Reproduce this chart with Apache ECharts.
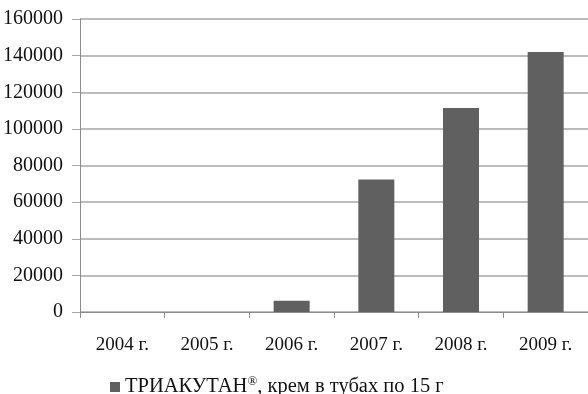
<!DOCTYPE html>
<html>
<head>
<meta charset="utf-8">
<script src="https://cdn.jsdelivr.net/npm/echarts@6/dist/echarts.min.js"></script>
<style>
  html, body { margin: 0; padding: 0; background: #fff; }
  #chart { width: 588px; height: 394px; }
</style>
</head>
<body>
<div id="chart"></div>
<script>
// Годы выпуска и объём продаж
const years = ['2004 г.', '2005 г.', '2006 г.', '2007 г.', '2008 г.', '2009 г.'];
const sales = [0, 0, 6200, 72300, 111400, 142000];
const seriesName = 'ТРИАКУТАН®, крем в тубах по 15 г';
const yTicks = { min: 0, max: 160000, interval: 20000 };

const FONT = '"Liberation Serif", "Times New Roman", serif';
const chart = echarts.init(document.getElementById('chart'), null, { renderer: 'canvas' });

chart.setOption({
  animation: false,
  backgroundColor: '#ffffff',
  grid: { left: 76, top: 19, right: 0, bottom: 82, containLabel: false },
  legend: {
    data: [seriesName],
    top: 375,
    left: 110,
    padding: 0,
    icon: 'rect',
    itemWidth: 10,
    itemHeight: 10,
    itemGap: 6,
    formatter: () => '{a|ТРИАКУТАН}{s|®}{a|, крем в тубах по 15 г}',
    textStyle: {
      fontFamily: FONT,
      color: '#111',
      rich: {
        a: { fontFamily: FONT, fontSize: 20.5, color: '#111', lineHeight: 24 },
        s: { fontFamily: FONT, fontSize: 13, color: '#111', lineHeight: 24, verticalAlign: 'top' }
      }
    }
  },
  xAxis: {
    type: 'category',
    data: years,
    boundaryGap: true,
    axisLine: { show: true, lineStyle: { color: '#8c8c8c', width: 1 } },
    axisTick: { show: true, length: 6, inside: false, alignWithLabel: false, lineStyle: { color: '#8c8c8c' } },
    axisLabel: { fontFamily: FONT, fontSize: 19, color: '#111', margin: 24 },
    splitLine: { show: false }
  },
  yAxis: {
    type: 'value',
    min: yTicks.min,
    max: yTicks.max,
    interval: yTicks.interval,
    axisLine: { show: true, lineStyle: { color: '#8c8c8c', width: 1 } },
    axisTick: { show: true, length: 8, lineStyle: { color: '#a6a6a6' } },
    axisLabel: {
      fontFamily: FONT, fontSize: 20, color: '#111', margin: 17,
      formatter: (v) => String(v)
    },
    splitLine: { show: true, lineStyle: { color: '#a6a6a6', width: 1.5 } }
  },
  series: [{
    name: seriesName,
    type: 'bar',
    data: sales,
    barWidth: 36,
    itemStyle: { color: '#5f605f' }
  }]
});
</script>
</body>
</html>
